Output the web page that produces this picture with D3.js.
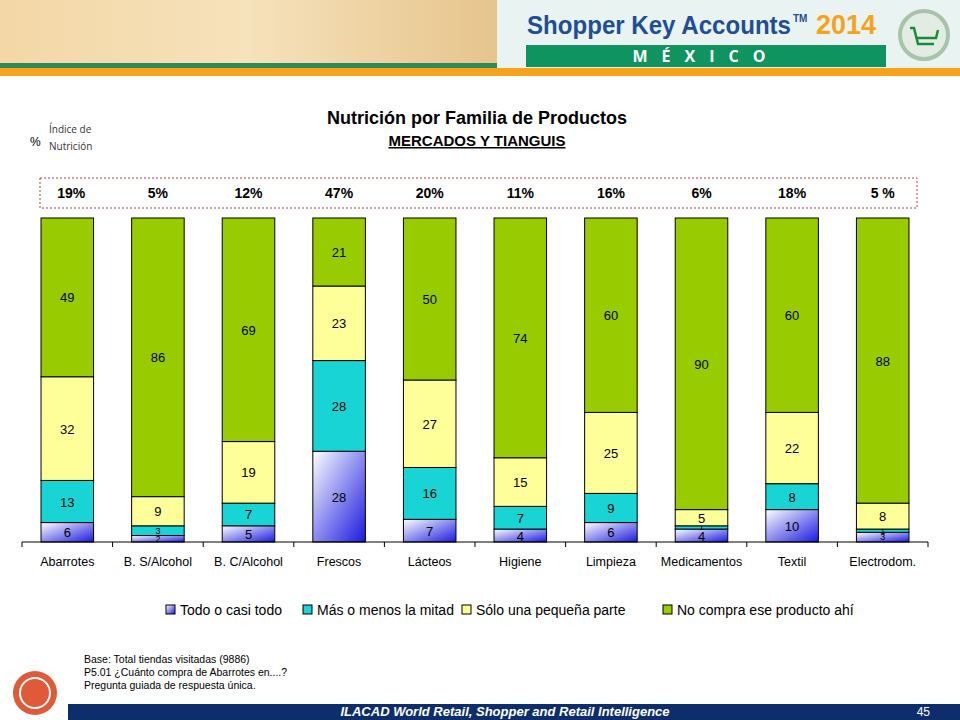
<!DOCTYPE html>
<html><head><meta charset="utf-8">
<script src="https://cdn.jsdelivr.net/npm/d3@7"></script>
<style>body{margin:0;background:#fff}svg{display:block}</style>
</head><body>
<script>
var categories = ["Abarrotes","B. S/Alcohol","B. C/Alcohol","Frescos","Lácteos","Higiene","Limpieza","Medicamentos","Textil","Electrodom."];
var seriesNames = ["Todo o casi todo","Más o menos la mitad","Sólo una pequeña parte","No compra ese producto ahí"];
var todo = [6,2,5,28,7,4,6,4,10,3];
var mitad = [13,3,7,28,16,7,9,1,8,1];
var pequena = [32,9,19,23,27,15,25,5,22,8];
var noCompra = [49,86,69,21,50,74,60,90,60,88];
var indice = ["19%","5%","12%","47%","20%","11%","16%","6%","18%","5 %"];

var W = 960, H = 720;
var svg = d3.select("body").append("svg").attr("width", W).attr("height", H);
var defs = svg.append("defs");

// header
var hg = defs.append("linearGradient").attr("id","hdr");
hg.append("stop").attr("offset","0").attr("stop-color","#f3d7a6");
hg.append("stop").attr("offset","0.5").attr("stop-color","#f6e2bb");
hg.append("stop").attr("offset","1").attr("stop-color","#e6c48c");
svg.append("rect").attr("x",0).attr("y",0).attr("width",W).attr("height",68).attr("fill","#e9f3f1");
svg.append("rect").attr("x",0).attr("y",0).attr("width",497).attr("height",64).attr("fill","url(#hdr)");
svg.append("rect").attr("x",0).attr("y",63).attr("width",497).attr("height",5).attr("fill","#2e8b57");
svg.append("rect").attr("x",0).attr("y",68).attr("width",W).attr("height",8).attr("fill","#f7a21b");
svg.append("text").attr("x",527).attr("y",34).attr("font-family","Liberation Sans, Arial").attr("font-weight","bold")
  .attr("font-size",26).attr("fill","#1f4e96").attr("textLength",264).attr("lengthAdjust","spacingAndGlyphs")
  .text("Shopper Key Accounts");
svg.append("text").attr("x",793).attr("y",22).attr("font-family","Liberation Sans, Arial").attr("font-weight","bold")
  .attr("font-size",10).attr("fill","#1f4e96").text("TM");
svg.append("text").attr("x",816).attr("y",34).attr("font-family","Liberation Sans, Arial").attr("font-weight","bold")
  .attr("font-size",27).attr("fill","#f7a21b").text("2014");
svg.append("rect").attr("x",526).attr("y",45).attr("width",360).attr("height",22).attr("fill","#0f9460");
svg.append("text").attr("x",706).attr("y",62).attr("text-anchor","middle").attr("font-family","Open Sans, Arial")
  .attr("font-weight","bold").attr("font-size",16).attr("letter-spacing",14).attr("fill","#fff").text("MÉXICO");
svg.append("circle").attr("cx",924).attr("cy",35).attr("r",24).attr("fill","#e3ece3").attr("stroke","#a8c4a8").attr("stroke-width",4);
svg.append("path").attr("d","M910,28 L914,28 L918,44 L934,44 M916,38 L936,38 L938,30").attr("fill","none").attr("stroke","#1a8a3a").attr("stroke-width",2.5);

// titles
svg.append("text").attr("x",477).attr("y",124).attr("text-anchor","middle").attr("font-family","Liberation Sans, Arial")
  .attr("font-weight","bold").attr("font-size",18).text("Nutrición por Familia de Productos");
svg.append("text").attr("x",477).attr("y",146).attr("text-anchor","middle").attr("font-family","Liberation Sans, Arial")
  .attr("font-weight","bold").attr("font-size",15).attr("text-decoration","underline").text("MERCADOS Y TIANGUIS");
svg.append("text").attr("x",30).attr("y",146).attr("font-family","Liberation Sans, Arial").attr("font-size",12).text("%");
svg.append("text").attr("x",49).attr("y",133).attr("font-family","Open Sans, Arial").attr("font-size",10).attr("fill","#333").text("Índice de");
svg.append("text").attr("x",49).attr("y",150).attr("font-family","Open Sans, Arial").attr("font-size",10).attr("fill","#333").text("Nutrición");

// scales
var x = d3.scaleBand().domain(categories).range([22, 928]).paddingInner(0.42).paddingOuter(0.21);
var y = d3.scaleLinear().domain([0,100]).range([542, 218]);

svg.append("rect").attr("x",40).attr("y",178).attr("width",877).attr("height",30)
  .attr("fill","none").attr("stroke","#b04040").attr("stroke-dasharray","2,2");
svg.selectAll("text.idx").data(indice).join("text").attr("class","idx")
  .attr("x",(d,i)=>x(categories[i])+x.bandwidth()/2 + (i==0?4:0)).attr("y",198).attr("text-anchor","middle")
  .attr("font-family","Liberation Sans, Arial").attr("font-weight","bold").attr("font-size",14).text(d=>d);

// gradients
function grad(id, c1, c2){
  var g = defs.append("linearGradient").attr("id",id).attr("x1","0").attr("y1","0").attr("x2","1").attr("y2","1");
  g.append("stop").attr("offset","0").attr("stop-color",c1);
  g.append("stop").attr("offset","1").attr("stop-color",c2);
}
grad("gTodo","#ffffff","#1a1ae0");
var fills = ["url(#gTodo)","#19d4d4","#ffff99","#99cc00"];

var rows = categories.map((c,i)=>({cat:c, a:todo[i], b:mitad[i], c:pequena[i], d:noCompra[i]}));
var stacked = d3.stack().keys(["a","b","c","d"])(rows);

stacked.forEach(function(layer, k){
  var g = svg.append("g");
  g.selectAll("rect").data(layer).join("rect")
    .attr("x", d=>x(d.data.cat)).attr("width", x.bandwidth())
    .attr("y", d=>y(d[1])).attr("height", d=>y(d[0])-y(d[1]))
    .attr("fill", fills[k]).attr("stroke","#000").attr("stroke-width",1);
  g.selectAll("text").data(layer).join("text")
    .attr("x", d=>x(d.data.cat)+x.bandwidth()/2).attr("y", d=>(y(d[0])+y(d[1]))/2+(d[1]-d[0]<4?3:5))
    .attr("text-anchor","middle").attr("font-family","Liberation Sans, Arial")
    .attr("font-size", d=>d[1]-d[0]<4?9:13)
    .text(d=>d[1]-d[0]);
});

// axis
var ax = svg.append("g").attr("transform","translate(0,542)");
ax.append("line").attr("x1",22).attr("x2",928).attr("stroke","#000");
var step = x.step();
ax.selectAll("line.t").data(d3.range(11)).join("line").attr("class","t")
  .attr("x1",d=>22+d*step).attr("x2",d=>22+d*step).attr("y2",5).attr("stroke","#000");
ax.selectAll("text").data(categories).join("text")
  .attr("x",d=>x(d)+x.bandwidth()/2).attr("y",24).attr("text-anchor","middle")
  .attr("font-family","Liberation Sans, Arial").attr("font-size",12.5).text(d=>d);

// legend
var lx = [166, 303, 462, 663];
seriesNames.forEach(function(s,i){
  svg.append("rect").attr("x",lx[i]).attr("y",605).attr("width",9).attr("height",9).attr("fill",fills[i]).attr("stroke","#000");
  svg.append("text").attr("x",lx[i]+14).attr("y",615).attr("font-family","Liberation Sans, Arial").attr("font-size",14).text(s);
});

// footer
["Base: Total tiendas visitadas (9886)","P5.01 ¿Cuánto compra de Abarrotes en....?","Pregunta guiada de respuesta única."].forEach(function(t,i){
  svg.append("text").attr("x",84).attr("y",663+i*13).attr("font-family","Liberation Sans, Arial").attr("font-size",10.5).text(t);
});
svg.append("circle").attr("cx",35).attr("cy",693).attr("r",22).attr("fill","#e05a3a");
svg.append("circle").attr("cx",35).attr("cy",693).attr("r",15).attr("fill","none").attr("stroke","#fff").attr("stroke-width",2);
svg.append("rect").attr("x",68).attr("y",704).attr("width",892).attr("height",16).attr("fill","#0d2d6b");
svg.append("text").attr("x",505).attr("y",716).attr("text-anchor","middle").attr("font-family","Liberation Sans, Arial")
  .attr("font-weight","bold").attr("font-style","italic").attr("font-size",13).attr("fill","#fff")
  .text("ILACAD World Retail, Shopper and Retail Intelligence");
svg.append("text").attr("x",930).attr("y",716).attr("text-anchor","end").attr("font-family","Liberation Sans, Arial")
  .attr("font-size",12).attr("fill","#fff").text("45");
</script>
</body></html>
